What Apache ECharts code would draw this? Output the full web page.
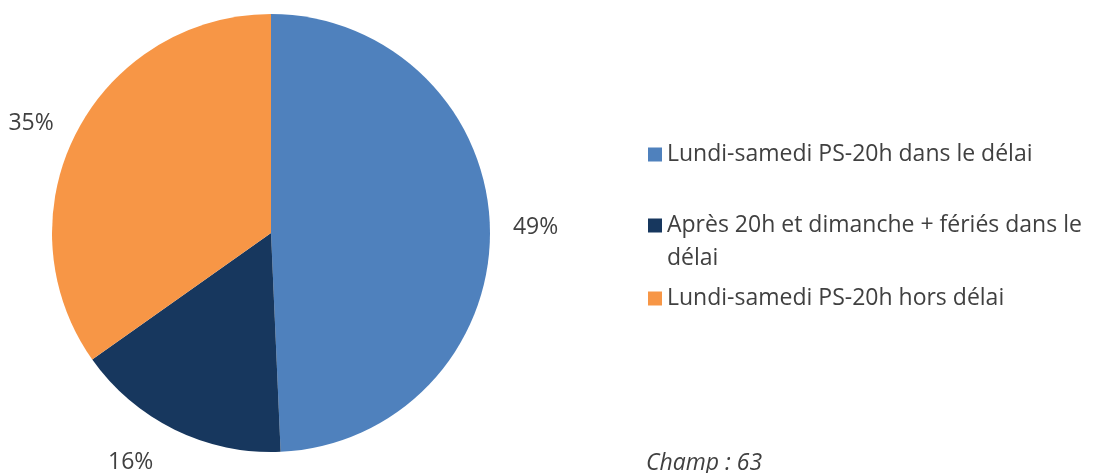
<!DOCTYPE html>
<html>
<head>
<meta charset="utf-8">
<script src="https://cdn.jsdelivr.net/npm/echarts@6/dist/echarts.min.js"></script>
<style>
  html, body { margin: 0; padding: 0; background: #fff; }
  #main { width: 1095px; height: 473px; }
</style>
</head>
<body>
<div id="main"></div>
<script>
// data
var categories = ['Lundi-samedi PS-20h dans le délai', 'Après 20h et dimanche + fériés dans le délai', 'Lundi-samedi PS-20h hors délai'];
var values = [49.3, 15.9, 34.8];
var labels = ['49%', '16%', '35%'];
var colors = ['#4F81BD', '#17375E', '#F79646'];
// how the long legend entry wraps (blank first line keeps the square on the first text line)
var legendText = ['Lundi-samedi PS-20h dans le délai', '\nAprès 20h et dimanche + fériés dans le\ndélai', 'Lundi-samedi PS-20h hors délai'];

var FONT = 'Open Sans';
var FS = 23;
var TXT = '#404040';

var chart = echarts.init(document.getElementById('main'));

// per-slice label distance (Excel puts them a bit irregularly)
var lineLen = [18, 37, 20];

var legendTops = [138, 176, 282];
var legends = categories.map(function (name, i) {
  return {
    orient: 'vertical',
    left: 648,
    top: legendTops[i],
    itemWidth: 14,
    itemHeight: 14,
    icon: 'rect',
    itemGap: 0,
    padding: 0,
    data: [name],
    formatter: function () { return legendText[i]; },
    textStyle: { fontFamily: FONT, fontSize: FS, color: TXT, lineHeight: 33 }
  };
});

var option = {
  animation: false,
  title: {
    text: 'Champ : 63',
    left: 646,
    top: 452,
    padding: 0,
    textStyle: { fontFamily: FONT, fontSize: FS, fontStyle: 'italic', fontWeight: 'normal', color: TXT }
  },
  legend: legends,
  series: [{
    type: 'pie',
    center: [271, 233],
    radius: 219,
    startAngle: 90,
    clockwise: true,
    silent: true,
    avoidLabelOverlap: false,
    itemStyle: { borderWidth: 0 },
    label: {
      show: true,
      position: 'outside',
      fontFamily: FONT,
      fontSize: FS,
      color: TXT,
      formatter: function (p) { return labels[p.dataIndex]; }
    },
    data: categories.map(function (c, i) {
      return {
        name: c,
        value: values[i],
        itemStyle: { color: colors[i] },
        labelLine: { show: false, length: lineLen[i], length2: 0 }
      };
    })
  }]
};

chart.setOption(option);
</script>
</body>
</html>
